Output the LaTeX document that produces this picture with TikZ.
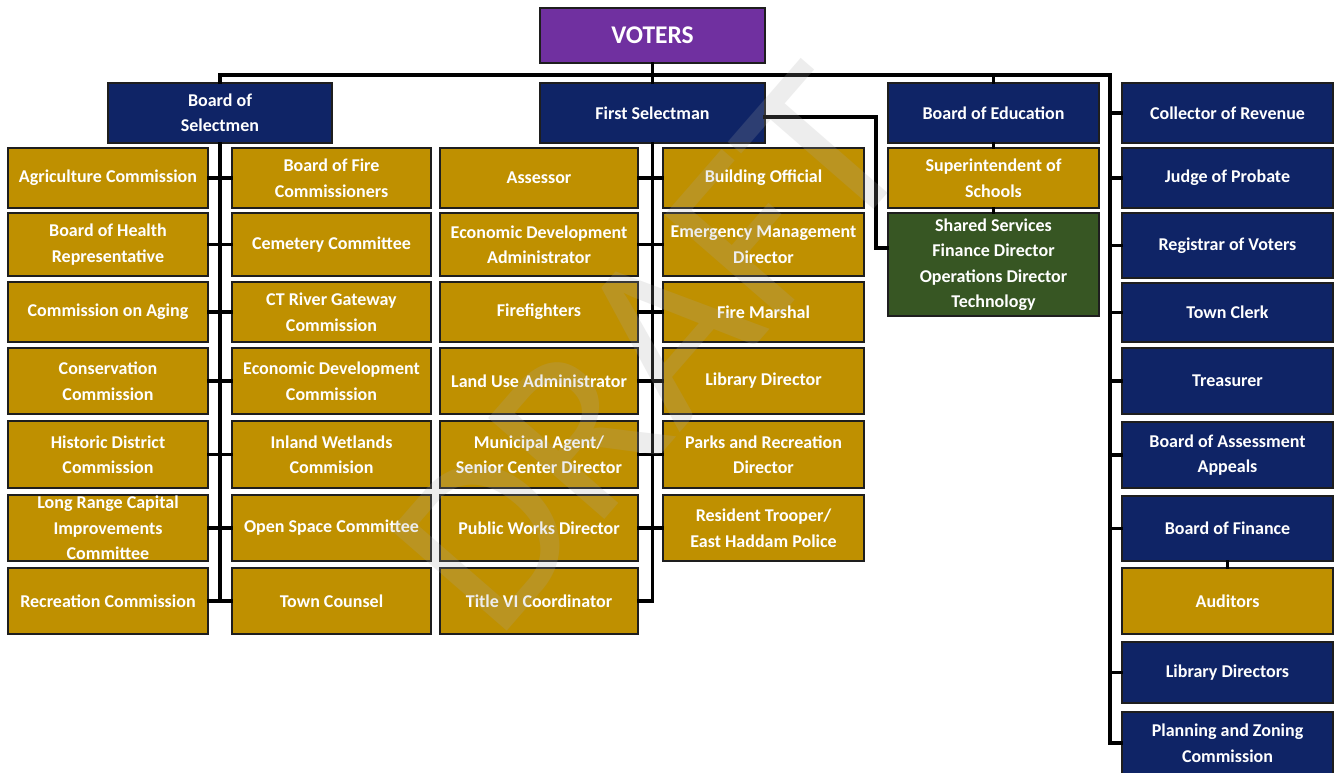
\documentclass[tikz,border=0pt]{standalone}
\usepackage{fontspec}
\setmainfont{Carlito}
\definecolor{navy}{HTML}{0F2466}
\definecolor{gold}{HTML}{BF9000}
\definecolor{olive}{HTML}{375623}
\definecolor{vpurple}{HTML}{7030A0}
\definecolor{edge}{HTML}{1E1E1E}
\tikzset{
  orgbox/.style={draw=edge, line width=1.4pt, text=white, align=center, inner sep=0pt,
    font=\fontsize{18}{25.5}\selectfont\bfseries},
  gbox/.style={orgbox, fill=gold},
  nbox/.style={orgbox, fill=navy},
  grbox/.style={orgbox, fill=olive},
  conn/.style={draw=black, line width=3.5pt, line cap=rect},
  wmark/.style={text=gray!70, opacity=0.2, font=\fontsize{240}{240}\selectfont, rotate=49, inner sep=0pt}
}
\newcommand{\bx}[7]{\node[#1, minimum width=#5pt-#3pt, minimum height=#6pt-#4pt] (#2) at ({(#3+#5)/2},{(#4+#6)/2}) {#7};}
\begin{document}
\begin{tikzpicture}[x=1pt,y=-1pt]
\useasboundingbox[fill=white] (0,0) rectangle (1335,773);
% top level
\bx{orgbox, fill=vpurple, font=\fontsize{25.5}{30}\selectfont\bfseries}{voters}{540}{8}{765}{63}{VOTERS}
\bx{nbox}{bos}{108}{83}{332}{143}{Board of\\Selectmen}
\bx{nbox}{fs}{540}{83}{765}{143}{First Selectman}
\bx{nbox}{boe}{888}{83}{1099}{143}{Board of Education}
% column 1
\bx{gbox}{a1}{8}{148}{208}{208}{Agriculture Commission}
\bx{gbox}{a2}{8}{213}{208}{276}{Board of Health\\Representative}
\bx{gbox}{a3}{8}{282}{208}{342}{Commission on Aging}
\bx{gbox}{a4}{8}{348}{208}{414}{Conservation\\Commission}
\bx{gbox}{a5}{8}{421}{208}{488}{Historic District\\Commission}
\bx{gbox}{a6}{8}{495}{208}{561}{Long Range Capital\\Improvements\\Committee}
\bx{gbox}{a7}{8}{568}{208}{634}{Recreation Commission}
% column 2
\bx{gbox}{b1}{232}{148}{431}{208}{Board of Fire\\Commissioners}
\bx{gbox}{b2}{232}{213}{431}{276}{Cemetery Committee}
\bx{gbox}{b3}{232}{282}{431}{342}{CT River Gateway\\Commission}
\bx{gbox}{b4}{232}{348}{431}{414}{Economic Development\\Commission}
\bx{gbox}{b5}{232}{421}{431}{488}{Inland Wetlands\\Commision}
\bx{gbox}{b6}{232}{495}{431}{561}{Open Space Committee}
\bx{gbox}{b7}{232}{568}{431}{634}{Town Counsel}
% column 3
\bx{gbox}{c1}{440}{148}{638}{208}{Assessor}
\bx{gbox}{c2}{440}{213}{638}{276}{Economic Development\\Administrator}
\bx{gbox}{c3}{440}{282}{638}{342}{Firefighters}
\bx{gbox}{c4}{440}{348}{638}{414}{Land Use Administrator}
\bx{gbox}{c5}{440}{421}{638}{488}{Municipal Agent/\\Senior Center Director}
\bx{gbox}{c6}{440}{495}{638}{561}{Public Works Director}
\bx{gbox}{c7}{440}{568}{638}{634}{Title VI Coordinator}
% column 4
\bx{gbox}{d1}{663}{148}{864}{208}{Building Official}
\bx{gbox}{d2}{663}{213}{864}{276}{Emergency Management\\Director}
\bx{gbox}{d3}{663}{282}{864}{342}{Fire Marshal}
\bx{gbox}{d4}{663}{348}{864}{414}{Library Director}
\bx{gbox}{d5}{663}{421}{864}{488}{Parks and Recreation\\Director}
\bx{gbox}{d6}{663}{495}{864}{561}{Resident Trooper/\\East Haddam Police}
% education
\bx{gbox}{sup}{888}{148}{1099}{208}{Superintendent of\\Schools}
\bx{grbox}{shared}{888}{213}{1099}{316}{Shared Services\\Finance Director\\Operations Director\\Technology}
% right column
\bx{nbox}{r1}{1122}{83}{1333}{143}{Collector of Revenue}
\bx{nbox}{r2}{1122}{148}{1333}{208}{Judge of Probate}
\bx{nbox}{r3}{1122}{213}{1333}{278}{Registrar of Voters}
\bx{nbox}{r4}{1122}{283}{1333}{342}{Town Clerk}
\bx{nbox}{r5}{1122}{348}{1333}{414}{Treasurer}
\bx{nbox}{r6}{1122}{422}{1333}{488}{Board of Assessment\\Appeals}
\bx{nbox}{r7}{1122}{496}{1333}{561}{Board of Finance}
\bx{gbox}{aud}{1122}{568}{1333}{634}{Auditors}
\bx{nbox}{r9}{1122}{642}{1333}{703}{Library Directors}
\bx{nbox}{r10}{1122}{712}{1333}{774}{Planning and Zoning\\Commission}
% connectors
\coordinate (rtop) at (1110,75);
\coordinate (fsj) at (876,248);
\coordinate (fsout) at (765,117);
\draw[conn] (voters.south) -- (fs.north);
\draw[conn] (bos.north) |- (rtop) |- (r10.west);
\draw[conn] (boe.north) -- (boe.north |- rtop);
\foreach \r in {r1,r2,r3,r4,r5,r6,r7,r9}{\draw[conn] (\r.west) -- (\r.west -| rtop);}
\draw[conn] (r7.south) -- (aud.north);
\draw[conn] (boe.south) -- (sup.north);
\draw[conn] (sup.south) -- (shared.north);
\draw[conn] (fsout) -| (fsj) -- (shared.west |- fsj);
\draw[conn] (bos.south) -- (bos.south |- a7.east);
\foreach \i in {1,...,7}{\draw[conn] (a\i.east) -- (b\i.west);}
\draw[conn] (fs.south) |- (c7.east);
\foreach \i in {1,...,6}{\draw[conn] (c\i.east) -- (d\i.west);}
% watermark
\node[wmark] (wm) at (650,350) {DRAFT};
\end{tikzpicture}
\end{document}
